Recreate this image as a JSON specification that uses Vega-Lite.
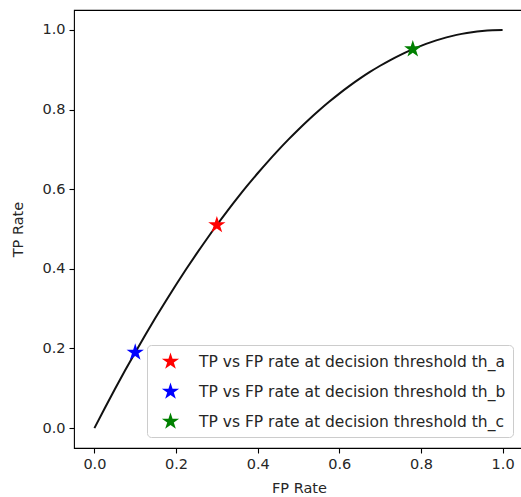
{
  "$schema": "https://vega.github.io/schema/vega-lite/v6.json",
  "width": 449,
  "height": 438,
  "autosize": {"type": "none"},
  "padding": {"left": 74, "top": 10, "right": 0, "bottom": 49},
  "background": "white",
  "config": {
    "font": "DejaVu Sans",
    "view": {"stroke": "black", "strokeWidth": 1.1},
    "axis": {
      "grid": false,
      "domain": false,
      "tickColor": "black",
      "tickWidth": 1.1,
      "tickSize": 5,
      "labelPadding": 4,
      "labelFontSize": 14.5,
      "labelColor": "#262626",
      "titleFontSize": 14.5,
      "titleFontWeight": "normal",
      "titleColor": "#262626"
    }
  },
  "datasets": {
    "curve": [
      {"fp": 0, "tp": 0},
      {"fp": 0.025, "tp": 0.049375},
      {"fp": 0.05, "tp": 0.0975},
      {"fp": 0.075, "tp": 0.144375},
      {"fp": 0.1, "tp": 0.19},
      {"fp": 0.125, "tp": 0.234375},
      {"fp": 0.15, "tp": 0.2775},
      {"fp": 0.175, "tp": 0.319375},
      {"fp": 0.2, "tp": 0.36},
      {"fp": 0.225, "tp": 0.399375},
      {"fp": 0.25, "tp": 0.4375},
      {"fp": 0.275, "tp": 0.474375},
      {"fp": 0.3, "tp": 0.51},
      {"fp": 0.325, "tp": 0.544375},
      {"fp": 0.35, "tp": 0.5775},
      {"fp": 0.375, "tp": 0.609375},
      {"fp": 0.4, "tp": 0.64},
      {"fp": 0.425, "tp": 0.669375},
      {"fp": 0.45, "tp": 0.6975},
      {"fp": 0.475, "tp": 0.724375},
      {"fp": 0.5, "tp": 0.75},
      {"fp": 0.525, "tp": 0.774375},
      {"fp": 0.55, "tp": 0.7975},
      {"fp": 0.575, "tp": 0.819375},
      {"fp": 0.6, "tp": 0.84},
      {"fp": 0.625, "tp": 0.859375},
      {"fp": 0.65, "tp": 0.8775},
      {"fp": 0.675, "tp": 0.894375},
      {"fp": 0.7, "tp": 0.91},
      {"fp": 0.725, "tp": 0.924375},
      {"fp": 0.75, "tp": 0.9375},
      {"fp": 0.775, "tp": 0.949375},
      {"fp": 0.8, "tp": 0.96},
      {"fp": 0.825, "tp": 0.969375},
      {"fp": 0.85, "tp": 0.9775},
      {"fp": 0.875, "tp": 0.984375},
      {"fp": 0.9, "tp": 0.99},
      {"fp": 0.925, "tp": 0.994375},
      {"fp": 0.95, "tp": 0.9975},
      {"fp": 0.975, "tp": 0.999375},
      {"fp": 1.0, "tp": 1.0}
    ],
    "stars": [
      {"fp": 0.3, "tp": 0.51, "label": "TP vs FP rate at decision threshold th_a"},
      {"fp": 0.1, "tp": 0.19, "label": "TP vs FP rate at decision threshold th_b"},
      {"fp": 0.78, "tp": 0.9516, "label": "TP vs FP rate at decision threshold th_c"}
    ]
  },
  "layer": [
    {
      "data": {"name": "curve"},
      "mark": {"type": "line", "color": "#111111", "strokeWidth": 2, "interpolate": "monotone"},
      "encoding": {
        "x": {
          "field": "fp", "type": "quantitative", "title": "FP Rate",
          "scale": {"domain": [-0.05, 1.05], "nice": false, "zero": false},
          "axis": {"values": [0, 0.2, 0.4, 0.6, 0.8, 1.0], "format": ".1f", "titleX": 225, "titleY": 40, "titleBaseline": "middle"}
        },
        "y": {
          "field": "tp", "type": "quantitative", "title": "TP Rate",
          "scale": {"domain": [-0.05, 1.05], "nice": false, "zero": false},
          "axis": {"values": [0, 0.2, 0.4, 0.6, 0.8, 1.0], "format": ".1f", "titleX": -56, "titleY": 219, "titleBaseline": "middle", "titleAngle": 270}
        }
      }
    },
    {
      "data": {"name": "stars"},
      "mark": {"type": "point", "shape": "M0,-1L0.2245,-0.309L0.951,-0.309L0.363,0.118L0.588,0.809L0,0.382L-0.588,0.809L-0.363,0.118L-0.951,-0.309L-0.2245,-0.309Z", "filled": true, "size": 330, "opacity": 1, "strokeWidth": 0},
      "encoding": {
        "x": {"field": "fp", "type": "quantitative"},
        "y": {"field": "tp", "type": "quantitative"},
        "color": {
          "field": "label", "type": "nominal",
          "scale": {
            "domain": ["TP vs FP rate at decision threshold th_a", "TP vs FP rate at decision threshold th_b", "TP vs FP rate at decision threshold th_c"],
            "range": ["#ff0000", "#0000ff", "#008000"]
          },
          "legend": {
            "title": null,
            "orient": "none",
            "legendX": 73,
            "legendY": 335,
            "padding": 7,
            "symbolOffset": 7,
            "symbolType": "M0,-1L0.2245,-0.309L0.951,-0.309L0.363,0.118L0.588,0.809L0,0.382L-0.588,0.809L-0.363,0.118L-0.951,-0.309L-0.2245,-0.309Z",
            "symbolSize": 330,
            "symbolStrokeWidth": 0,
            "symbolOpacity": 1,
            "labelFontSize": 15.5,
            "labelColor": "#262626",
            "labelOffset": 19,
            "labelLimit": 400,
            "rowPadding": 12,
            "fillColor": "rgba(255,255,255,0.8)",
            "strokeColor": "#cccccc",
            "cornerRadius": 4
          }
        }
      }
    }
  ]
}
